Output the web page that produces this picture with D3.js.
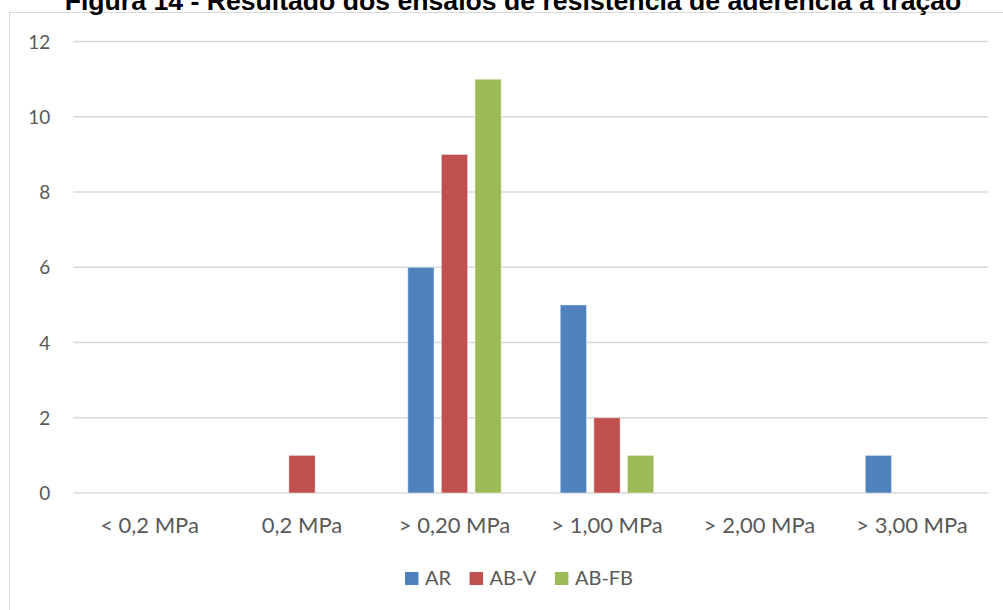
<!DOCTYPE html>
<html>
<head>
<meta charset="utf-8">
<script src="https://cdn.jsdelivr.net/npm/d3@7"></script>
<style>
  html, body { margin: 0; padding: 0; background: #fff; overflow: hidden; }
  svg { display: block; }
</style>
</head>
<body>
<svg id="chart" width="1003" height="610"></svg>
<script>
// Tensile bond strength test results, count of specimens per range
const title = "Figura 14 - Resultado dos ensaios de resistência de aderência à tração";
const categories = ["< 0,2 MPa", "0,2 MPa", "> 0,20 MPa", "> 1,00 MPa", "> 2,00 MPa", "> 3,00 MPa"];
const seriesNames = ["AR", "AB-V", "AB-FB"];
const valuesAR = [0, 0, 6, 5, 0, 1];
const valuesABV = [0, 1, 9, 2, 0, 0];
const valuesABFB = [0, 0, 11, 1, 0, 0];
const yTicks = [0, 2, 4, 6, 8, 10, 12];
const colors = ["#4F81BD", "#C0504D", "#9BBB59"];

const seriesValues = [valuesAR, valuesABV, valuesABFB];

const svg = d3.select("#chart");
const textColor = "#595959";
const gridColor = "#D9D9D9";
const font = "Lato, 'Open Sans', sans-serif";

// Chart frame
svg.append("rect")
  .attr("x", 9.5).attr("y", 12.5)
  .attr("width", 1100).attr("height", 700)
  .attr("fill", "#fff")
  .attr("stroke", gridColor).attr("stroke-width", 1);

// Title (sits partly above the page edge)
const titleText = svg.append("text")
  .attr("x", 513).attr("y", 10)
  .attr("text-anchor", "middle")
  .attr("font-family", "'Liberation Sans', Arial, sans-serif")
  .attr("font-weight", "bold")
  .attr("font-size", 20)
  .attr("fill", "#000")
  .text(title);
const tw = titleText.node().getComputedTextLength();
titleText.attr("font-size", 20 * 897 / tw);

const plot = { left: 73.25, right: 988.25, top: 41.6, bottom: 493 };

const x0 = d3.scaleBand()
  .domain(categories)
  .range([plot.left, plot.right])
  .paddingInner(0).paddingOuter(0);

const groupWidth = x0.bandwidth() * 0.613;
const x1 = d3.scaleBand()
  .domain(seriesNames)
  .range([0, groupWidth])
  .paddingInner(0.217).paddingOuter(0);

const y = d3.scaleLinear()
  .domain([0, 12])
  .range([plot.bottom, plot.top]);

// Gridlines
svg.append("g")
  .selectAll("line")
  .data(yTicks)
  .join("line")
  .attr("x1", plot.left).attr("x2", plot.right)
  .attr("y1", d => y(d)).attr("y2", d => y(d))
  .attr("stroke", gridColor).attr("stroke-width", 1.5);

// Y axis labels
const yAxis = svg.append("g")
  .attr("transform", `translate(${plot.left - 23},0)`)
  .call(d3.axisLeft(y).tickValues(yTicks).tickSize(0).tickPadding(0));
yAxis.select(".domain").remove();
yAxis.selectAll("text")
  .attr("font-family", font).attr("font-size", 19)
  .attr("fill", textColor)
  .attr("dy", "0.35em");

// X axis labels
const xAxis = svg.append("g")
  .attr("transform", `translate(0,${plot.bottom})`)
  .call(d3.axisBottom(x0).tickSize(0).tickPadding(0));
xAxis.select(".domain").remove();
xAxis.selectAll("text")
  .attr("font-family", font).attr("font-size", 22)
  .attr("fill", textColor)
  .attr("y", 40).attr("dy", 0);

// Bars
const offset = (x0.bandwidth() - groupWidth) / 2;
seriesNames.forEach((name, si) => {
  const rows = categories.map((c, ci) => ({ c, v: seriesValues[si][ci] })).filter(d => d.v > 0);
  svg.append("g")
    .selectAll("rect")
    .data(rows)
    .join("rect")
    .attr("x", d => x0(d.c) + offset + x1(name))
    .attr("width", x1.bandwidth())
    .attr("y", d => y(d.v))
    .attr("height", d => y(0) - y(d.v))
    .attr("fill", colors[si])
    .attr("stroke", "#fff").attr("stroke-opacity", 0.45).attr("stroke-width", 1);
});

// Legend
const legend = svg.append("g").attr("transform", "translate(405,0)");
let lx = 0;
seriesNames.forEach((name, i) => {
  const g = legend.append("g").attr("transform", `translate(${lx},0)`);
  g.append("rect")
    .attr("x", 0).attr("y", 572)
    .attr("width", 13.5).attr("height", 13)
    .attr("fill", colors[i]);
  const t = g.append("text")
    .attr("x", 20).attr("y", 585)
    .attr("font-family", font).attr("font-size", 20)
    .attr("fill", textColor)
    .text(name);
  lx += 20 + t.node().getComputedTextLength() + 18.5;
});
</script>
</body>
</html>
